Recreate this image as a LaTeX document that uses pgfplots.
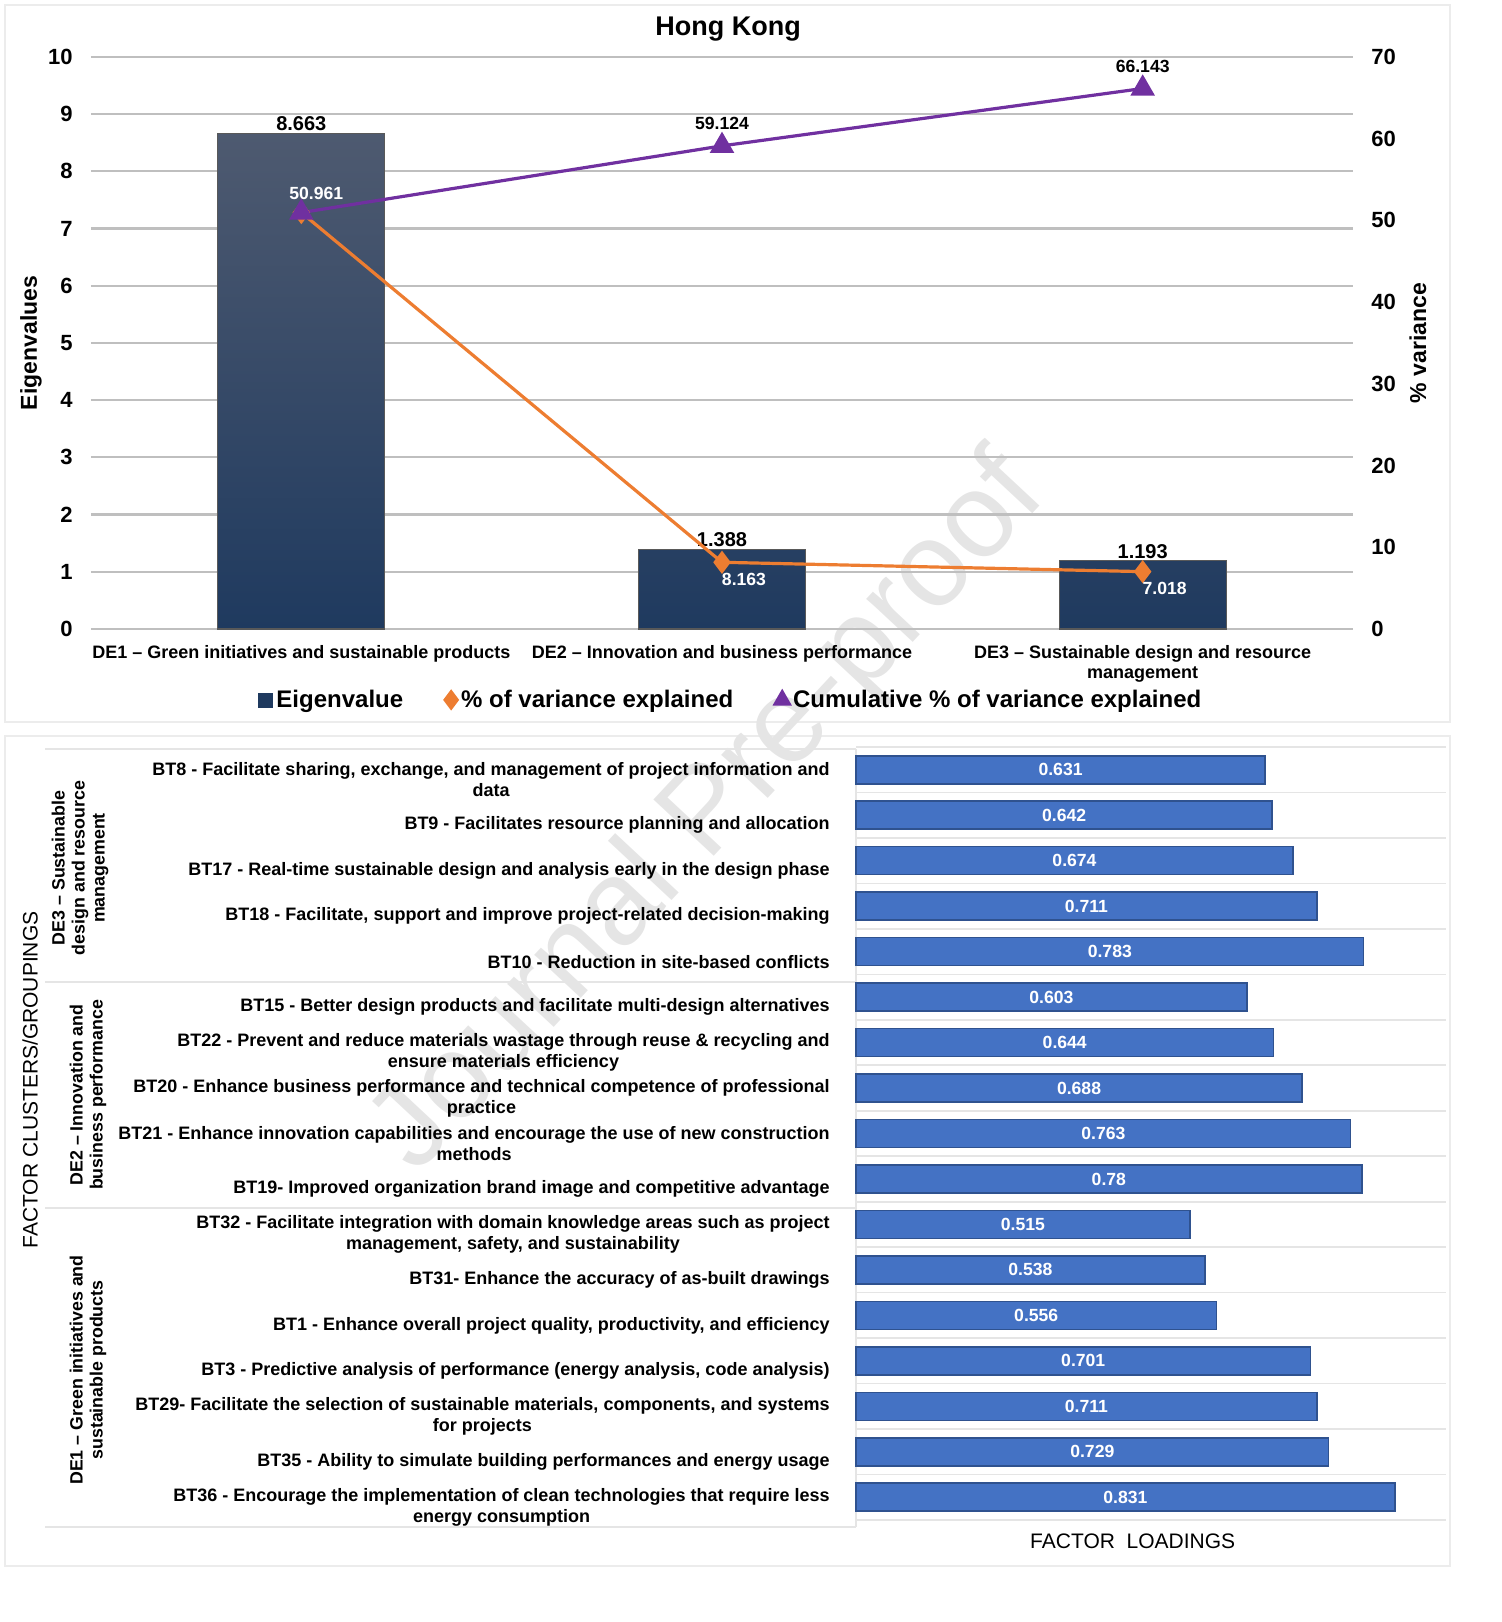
\documentclass[border=0pt]{standalone}
\usepackage{fontspec}
\setmainfont{Liberation Sans}
\newfontfamily\plainfont{Liberation Sans}
\usepackage{pgfplots}
\pgfplotsset{compat=1.18}
\usepackage{pgfplotstable}
\definecolor{barTop}{HTML}{4E5A70}
\definecolor{barBot}{HTML}{1F3A5F}
\definecolor{orangeL}{HTML}{ED7D31}
\definecolor{purpleL}{HTML}{7030A0}
\definecolor{blueBar}{HTML}{4472C4}
\definecolor{blueEdge}{HTML}{2F528F}
\definecolor{gridG}{HTML}{BFBFBF}
\pgfplotsset{/pgf/number format/assume math mode=true,
  markonly legend/.style={legend image code/.code={\draw[##1, mark size=4pt] plot coordinates {(6pt,0pt)};}}}

\pgfplotstableread{
x eig var cum
0 8.663 50.961 50.961
1 1.388 8.163 59.124
2 1.193 7.018 66.143
}\topdata

\pgfplotstableread{
y v
16 0.631
15 0.642
14 0.674
13 0.711
12 0.783
11 0.603
10 0.644
9 0.688
8 0.763
7 0.78
6 0.515
5 0.538
4 0.556
3 0.701
2 0.711
1 0.729
0 0.831
}\loaddata

\begin{document}
\begin{tikzpicture}
\useasboundingbox (0,0) rectangle (750.5pt,811pt);
% frames
\draw[gray!15, line width=0.8pt] (2.5pt,450pt) rectangle (725pt,808.5pt);
\draw[gray!15, line width=0.8pt] (2.5pt,28pt) rectangle (725pt,443pt);
% watermark
\node[rotate=47, text=gray!20, font=\plainfont\fontsize{60}{60}\selectfont] at (355pt,403.5pt) {Journal Pre-proof};

% ---------- top chart, left axis ----------
\begin{axis}[
  at={(45.5pt,496.5pt)}, anchor=south west, scale only axis,
  width=631pt, height=286pt,
  xmin=-0.5, xmax=2.5, ymin=0, ymax=10,
  ytick={0,...,10}, xtick={0,1,2},
  xticklabels={DE1 – Green initiatives and sustainable products, DE2 – Innovation and business performance, {DE3 – Sustainable design and resource\\management}},
  xticklabel style={align=center, anchor=north, inner sep=0pt, yshift=-8pt, font=\bfseries\fontsize{9}{9.8}\selectfont},
  axis line style={draw=none}, major tick length=0pt,
  ymajorgrids, grid style={gridG, line width=1.1pt},
  yticklabel style={font=\bfseries\fontsize{11}{12}\selectfont, inner sep=0pt, xshift=-9pt},
  ylabel={Eigenvalues},
  ylabel style={at={(axis description cs:-0.0475,0.5)}, anchor=center, font=\bfseries\fontsize{11.5}{13}\selectfont},
  title={Hong Kong},
  title style={at={(axis description cs:0.5048,1)}, anchor=center, yshift=8pt, font=\bfseries\fontsize{13.5}{15}\selectfont},
  clip=false,
]
\addplot[ybar, bar width=83.5pt, top color=barTop, bottom color=barBot, draw=black!65, line width=0.6pt] table[x=x,y=eig]{\topdata};
\addplot[draw=none, mark=none, nodes near coords={\pgfmathprintnumber[fixed,precision=3]{\pgfplotspointmeta}},
  every node near coord/.append style={anchor=south, text=black, inner sep=1pt, font=\bfseries\fontsize{10}{12}\selectfont}] table[x=x,y=eig]{\topdata};
\end{axis}

% ---------- top chart, right axis ----------
\begin{axis}[
  at={(45.5pt,496.5pt)}, anchor=south west, scale only axis,
  width=631pt, height=286pt,
  xmin=-0.5, xmax=2.5, ymin=0, ymax=70,
  axis y line*=right, hide x axis, axis line style={draw=none}, major tick length=0pt,
  ytick={0,10,...,70},
  yticklabel style={font=\bfseries\fontsize{11}{12}\selectfont, inner sep=0pt, xshift=9pt},
  ylabel={\% variance},
  ylabel style={at={(axis description cs:1.0515,0.5)}, anchor=center, font=\bfseries\fontsize{11.5}{13}\selectfont},
  legend columns=3,
  legend style={at={(axis description cs:0.5075,-0.124)}, anchor=center, draw=none, fill=none,
    font=\bfseries\fontsize{12}{14}\selectfont,
    /tikz/every even column/.append style={column sep=19pt}},
  clip=false,
]
\addlegendimage{legend image code/.code={\fill[barBot] (2pt,-3.5pt) rectangle (9pt,3.5pt);}}
\addlegendentry{Eigenvalue}
\addplot[orangeL, line width=1.6pt, mark=diamond*, mark size=4.5pt, mark options={fill=orangeL, solid},
  markonly legend] table[x=x,y=var]{\topdata};
\addlegendentry{\% of variance explained}
\addplot[purpleL, line width=1.6pt, mark=triangle*, mark size=5.5pt, mark options={fill=purpleL, solid},
  markonly legend] table[x=x,y=cum]{\topdata};
\addlegendentry{Cumulative \% of variance explained}
% value labels
\addplot[forget plot, draw=none, mark=none, restrict x to domain=-0.1:0.1,
  nodes near coords={\pgfmathprintnumber[fixed,precision=3]{\pgfplotspointmeta}},
  every node near coord/.append style={anchor=center, text=white, xshift=7.5pt, yshift=9.5pt, font=\bfseries\fontsize{8.8}{10}\selectfont}] table[x=x,y=cum]{\topdata};
\addplot[forget plot, draw=none, mark=none, restrict x to domain=0.9:2.1,
  nodes near coords={\pgfmathprintnumber[fixed,precision=3]{\pgfplotspointmeta}},
  every node near coord/.append style={anchor=center, text=black, yshift=11pt, font=\bfseries\fontsize{8.8}{10}\selectfont}] table[x=x,y=cum]{\topdata};
\addplot[forget plot, draw=none, mark=none, restrict x to domain=0.9:2.1,
  nodes near coords={\pgfmathprintnumber[fixed,precision=3]{\pgfplotspointmeta}},
  every node near coord/.append style={anchor=center, text=white, xshift=11pt, yshift=-8.5pt, font=\bfseries\fontsize{8.8}{10}\selectfont}] table[x=x,y=var]{\topdata};
\end{axis}

% ---------- bottom chart ----------
\begin{axis}[
  at={(428pt,51pt)}, anchor=south west, scale only axis,
  width=295pt, height=386.5pt,
  xmin=0, xmax=0.91, ymin=-0.5, ymax=16.5,
  axis line style={draw=none},
  xtick=\empty,
  ytick={0,...,16},
  yticklabels={
    {BT36 - Encourage the implementation of clean technologies that require less\\energy consumption},
    {BT35 - Ability to simulate building performances and energy usage},
    {BT29- Facilitate the selection of sustainable materials, components, and systems\\for projects},
    {BT3 - Predictive analysis of performance (energy analysis, code analysis)},
    {BT1 - Enhance overall project quality, productivity, and efficiency},
    {BT31- Enhance the accuracy of as-built drawings},
    {BT32 - Facilitate integration with domain knowledge areas such as project\\management, safety, and sustainability},
    {BT19- Improved organization brand image and competitive advantage},
    {BT21 - Enhance innovation capabilities and encourage the use of new construction\\methods},
    {BT20 - Enhance business performance and technical competence of professional\\practice},
    {BT22 - Prevent and reduce materials wastage through reuse \& recycling and\\ensure materials efficiency},
    {BT15 - Better design products and facilitate multi-design alternatives},
    {BT10 - Reduction in site-based conflicts},
    {BT18 - Facilitate, support and improve project-related decision-making},
    {BT17 - Real-time sustainable design and analysis early in the design phase},
    {BT9 - Facilitates resource planning and allocation},
    {BT8 - Facilitate sharing, exchange, and management of project information and\\data}},
  major tick length=0pt, minor tick length=0pt,
  minor ytick={0.5,1.5,...,15.5},
  yminorgrids, minor grid style={gray!20, line width=0.8pt},
  yticklabel style={align=center, anchor=east, inner sep=0pt, xshift=-13pt, yshift=-5pt, font=\bfseries\fontsize{9}{10.5}\selectfont},
  xlabel={FACTOR\ \ LOADINGS},
  xlabel style={at={(axis description cs:0.469,0)}, anchor=center, yshift=-10.5pt, font=\fontsize{10.5}{12}\selectfont},
  clip=false,
]
\draw[gray!20, line width=0.8pt] (axis cs:0,-0.66) -- (axis cs:0,16.45);
\draw[gray!20, line width=0.8pt] (axis cs:0,-0.5) -- (axis cs:0.91,-0.5);
\draw[gray!20, line width=0.8pt] (axis cs:0,16.5) -- (axis cs:0.91,16.5);
\pgfplotsinvokeforeach{-0.66,6.36,11.33,16.45}{\draw[gray!20, line width=0.8pt] (axis cs:0,#1) -- ++(-405.5pt,0pt);}
\addplot[xbar, bar width=14pt, fill=blueBar, draw=blueEdge, line width=0.8pt] table[x=v,y=y]{\loaddata};
\addplot[draw=none, mark=none, point meta=explicit,
  nodes near coords={\pgfmathprintnumber[fixed,precision=3]{\pgfplotspointmeta}},
  every node near coord/.append style={anchor=center, text=white, font=\bfseries\fontsize{8.8}{9}\selectfont}] table[x expr=\thisrow{v}/2, y=y, meta=v]{\loaddata};
\end{axis}

% group labels
\node[rotate=90, align=center, font=\bfseries\fontsize{8.9}{10}\selectfont] at (40pt,377pt) {DE3 – Sustainable\\design and resource\\management};
\node[rotate=90, align=center, font=\bfseries\fontsize{8.9}{10}\selectfont] at (44pt,263.5pt) {DE2 – Innovation and\\business performance};
\node[rotate=90, align=center, font=\bfseries\fontsize{8.9}{10}\selectfont] at (44pt,126pt) {DE1 – Green initiatives and\\sustainable products};
\node[rotate=90, font=\fontsize{10.5}{12}\selectfont] at (15pt,271pt) {FACTOR CLUSTERS/GROUPINGS};
\end{tikzpicture}
\end{document}
